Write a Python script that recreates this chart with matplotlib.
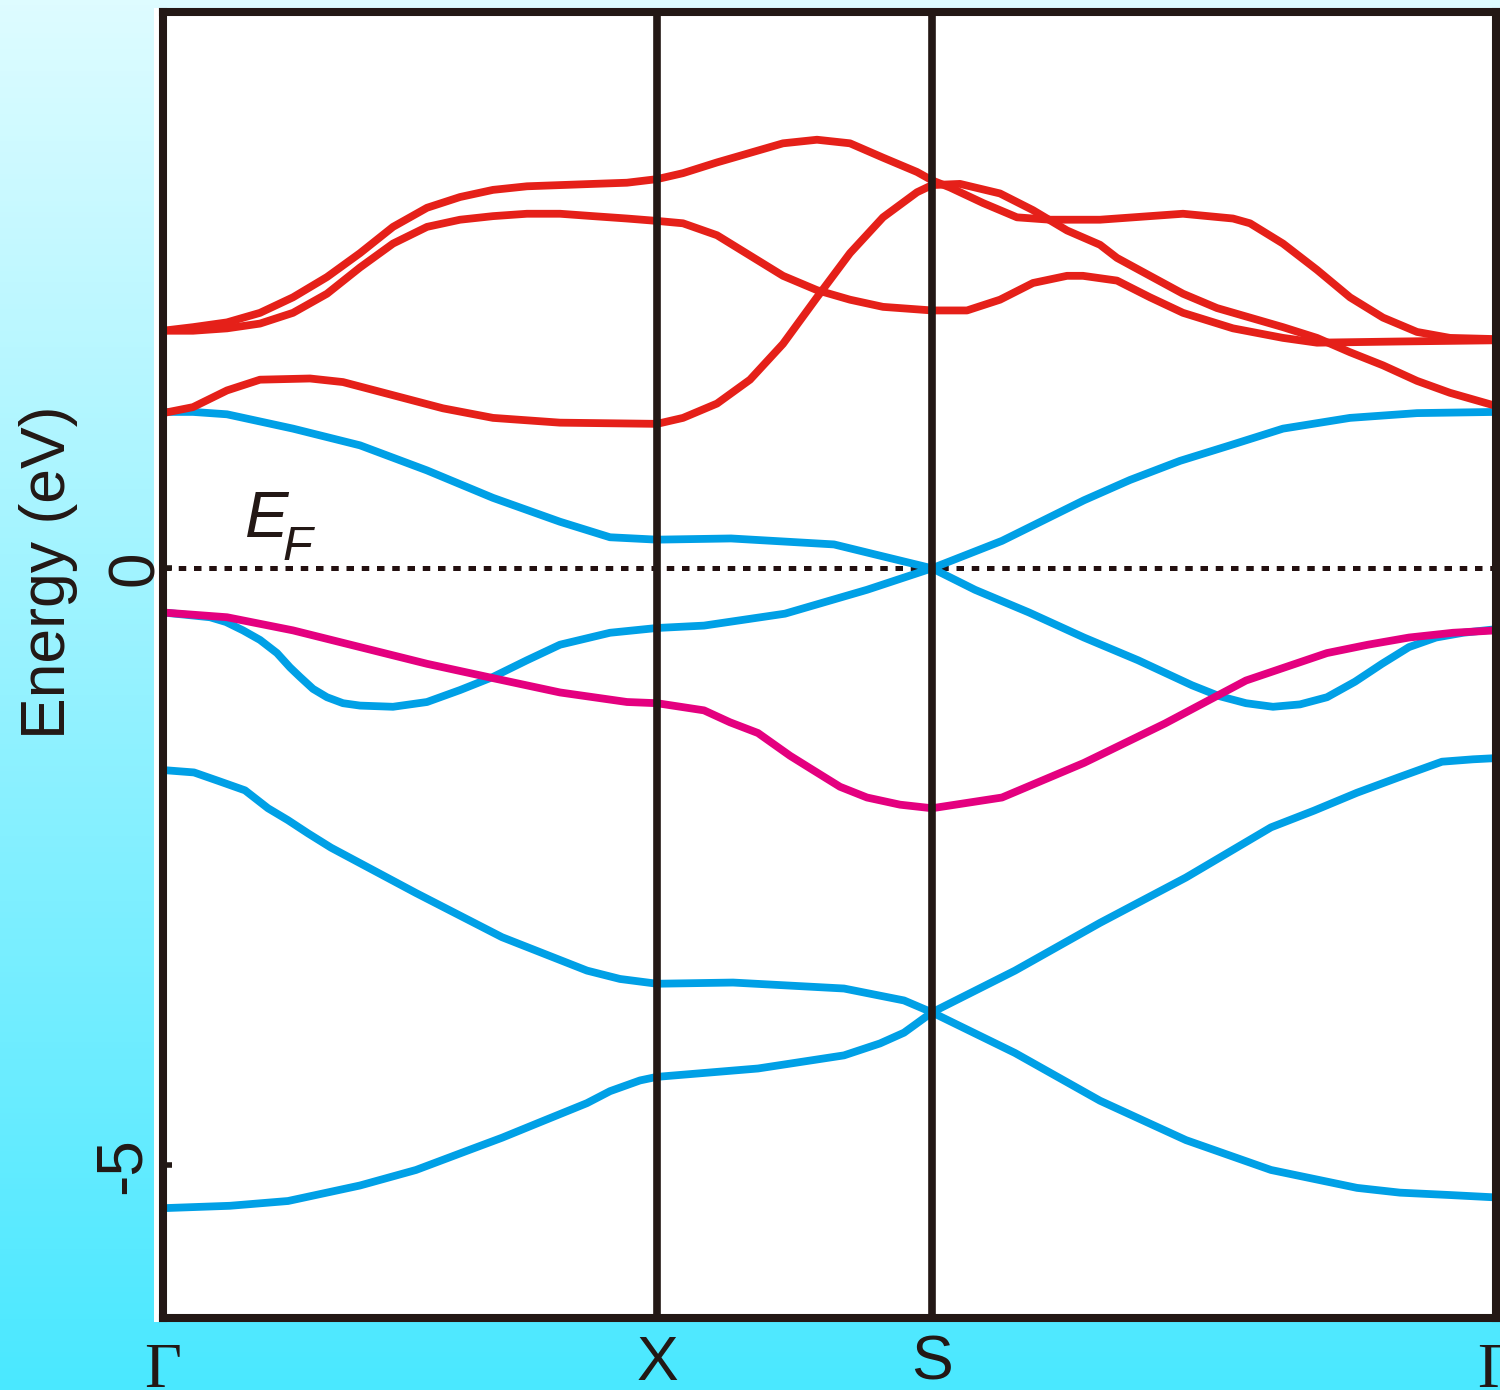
import numpy as np
import matplotlib
matplotlib.use("Agg")
import matplotlib.pyplot as plt
from matplotlib.patches import Rectangle

# k-path distance along Γ-X-S-Γ (arbitrary units), energies in eV
K_POINTS = [0, 494, 769, 1333]
K_LABELS = ["Γ", "X", "S", "Γ"]
Y_TICKS = [-5, 0]
Y_TICK_LABELS = ["-5", "0"]
E_MIN, E_MAX = -6.28, 4.66

# conduction bands (red)
K_R1 = [0, 30, 64, 97, 130, 164, 197, 230, 264, 297, 330, 364, 397, 430, 464, 494, 520, 554,
        587, 620, 654, 687, 720, 754, 769, 787, 820, 854, 887, 937, 1020, 1070, 1087, 1120,
        1154, 1187, 1220, 1254, 1287, 1333]
E_R1 = [1.99, 2.02, 2.06, 2.14, 2.27, 2.44, 2.64, 2.86, 3.02, 3.11, 3.17, 3.20, 3.21, 3.22,
        3.23, 3.26, 3.31, 3.40, 3.48, 3.56, 3.59, 3.56, 3.44, 3.32, 3.25, 3.19, 3.06, 2.94,
        2.92, 2.92, 2.97, 2.93, 2.89, 2.72, 2.50, 2.27, 2.10, 1.98, 1.93, 1.92]

K_R2 = [0, 30, 64, 97, 130, 164, 197, 230, 264, 297, 330, 364, 397, 430, 464, 494, 520, 554,
        587, 620, 654, 687, 720, 769, 804, 837, 870, 904, 920, 954, 987, 1020, 1070, 1120,
        1154, 1237, 1333]
E_R2 = [1.99, 1.99, 2.01, 2.05, 2.14, 2.30, 2.52, 2.72, 2.86, 2.92, 2.95, 2.97, 2.97, 2.95,
        2.93, 2.91, 2.89, 2.79, 2.62, 2.45, 2.33, 2.25, 2.19, 2.16, 2.16, 2.25, 2.39, 2.45,
        2.45, 2.41, 2.27, 2.14, 2.01, 1.93, 1.89, 1.90, 1.91]

K_R3 = [0, 30, 64, 97, 147, 180, 230, 280, 330, 397, 494, 520, 554, 587, 620, 654, 687, 720,
        754, 769, 797, 837, 870, 904, 937, 954, 987, 1020, 1054, 1087, 1120, 1154, 1187,
        1220, 1254, 1287, 1333]
E_R3 = [1.30, 1.35, 1.49, 1.58, 1.59, 1.56, 1.45, 1.34, 1.26, 1.22, 1.21, 1.26, 1.38, 1.58,
        1.88, 2.27, 2.64, 2.94, 3.15, 3.21, 3.22, 3.14, 3.00, 2.83, 2.71, 2.60, 2.45, 2.30,
        2.18, 2.10, 2.02, 1.93, 1.81, 1.70, 1.57, 1.47, 1.36]

# valence bands (blue)
K_B1 = [0, 30, 64, 130, 197, 264, 330, 397, 447, 494, 568, 671, 715, 769, 812, 866, 921, 975,
        1029, 1056, 1083, 1110, 1137, 1164, 1192, 1219, 1246, 1273, 1300, 1333]
E_B1 = [1.31, 1.31, 1.29, 1.17, 1.03, 0.82, 0.59, 0.39, 0.26, 0.24, 0.25, 0.20, 0.11, 0.00,
        -0.18, -0.37, -0.58, -0.77, -0.98, -1.07, -1.13, -1.16, -1.14, -1.08, -0.95, -0.80,
        -0.66, -0.58, -0.54, -0.51]

K_B2 = [0, 47, 63, 80, 97, 114, 127, 137, 150, 164, 180, 197, 230, 264, 297, 330, 364, 397,
        447, 494, 541, 622, 704, 769, 839, 921, 967, 1017, 1067, 1120, 1187, 1254, 1333]
E_B2 = [-0.37, -0.41, -0.45, -0.52, -0.60, -0.71, -0.83, -0.91, -1.01, -1.08, -1.13, -1.15,
        -1.16, -1.12, -1.02, -0.91, -0.77, -0.64, -0.54, -0.50, -0.48, -0.38, -0.18, 0.00,
        0.23, 0.57, 0.74, 0.90, 1.03, 1.17, 1.26, 1.30, 1.31]

K_B3 = [0, 31, 55, 82, 105, 125, 145, 168, 253, 339, 424, 457, 494, 570, 681, 741, 769, 852,
        937, 1023, 1108, 1151, 1194, 1236, 1279, 1310, 1333]
E_B3 = [-1.69, -1.71, -1.78, -1.86, -2.01, -2.11, -2.22, -2.34, -2.72, -3.09, -3.37, -3.44,
        -3.48, -3.47, -3.52, -3.62, -3.72, -3.37, -2.97, -2.59, -2.17, -2.03, -1.88, -1.75,
        -1.62, -1.60, -1.59]

K_B4 = [0, 67, 125, 197, 253, 307, 339, 377, 424, 447, 477, 494, 595, 681, 717, 741, 769, 852,
        937, 1023, 1108, 1194, 1237, 1287, 1333]
E_B4 = [-5.36, -5.34, -5.30, -5.17, -5.04, -4.87, -4.77, -4.64, -4.48, -4.38, -4.29, -4.26,
        -4.19, -4.08, -3.98, -3.89, -3.72, -4.06, -4.46, -4.79, -5.04, -5.19, -5.23, -5.25,
        -5.27]

# magenta band
K_M = [0, 64, 130, 197, 264, 330, 397, 464, 494, 541, 567, 595, 627, 650, 677, 704, 737, 769,
       839, 921, 1002, 1083, 1164, 1205, 1246, 1290, 1333]
E_M = [-0.37, -0.41, -0.52, -0.66, -0.80, -0.92, -1.04, -1.12, -1.13, -1.19, -1.29, -1.38,
       -1.57, -1.69, -1.83, -1.92, -1.98, -2.01, -1.92, -1.63, -1.30, -0.94, -0.71, -0.64,
       -0.58, -0.54, -0.52]

RED = "#E52019"
BLUE = "#00A0E6"
MAGENTA = "#E4007F"
BLACK = "#231815"
FONT = "Liberation Sans"

W, H = 1500, 1390
fig = plt.figure(figsize=(W / 100, H / 100), dpi=100)

# cyan vertical gradient background
bg = fig.add_axes([0, 0, 1, 1])
bg.set_axis_off()
top = np.array([222, 252, 255]) / 255
bot = np.array([74, 232, 255]) / 255
t = np.linspace(0, 1, 256)[:, None]
grad = top[None, :] * (1 - t) + bot[None, :] * t
bg.imshow(grad[:, None, :], extent=[0, 1, 0, 1], aspect="auto", origin="upper")
bg.add_patch(Rectangle((154 / W, 1 - 1322 / H), (W - 154) / W, (1322 - 8) / H,
                       color="white", lw=0))
bg.set_xlim(0, 1)
bg.set_ylim(0, 1)

ax = fig.add_axes([163 / W, 1 - 1318 / H, (1496 - 163) / W, (1318 - 12) / H])
ax.set_facecolor("white")
ax.set_xlim(K_POINTS[0], K_POINTS[-1])
ax.set_ylim(E_MIN, E_MAX)

ax.axhline(0, color="#231010", lw=3.6, ls=(0, (1.5, 1.55)), zorder=1)

lw = 5.6
for k, e in [(K_B1, E_B1), (K_B2, E_B2), (K_B3, E_B3), (K_B4, E_B4)]:
    ax.plot(k, e, color=BLUE, lw=lw, zorder=2, solid_joinstyle="round")
ax.plot(K_M, E_M, color=MAGENTA, lw=lw, zorder=2.2, solid_joinstyle="round")
for k, e in [(K_R1, E_R1), (K_R2, E_R2), (K_R3, E_R3)]:
    ax.plot(k, e, color=RED, lw=lw, zorder=2.4, solid_joinstyle="round")

for kp in K_POINTS[1:-1]:
    ax.axvline(kp, color=BLACK, lw=5.5, zorder=3)

for s in ax.spines.values():
    s.set_linewidth(5.8)
    s.set_color(BLACK)
    s.set_zorder(4)

ax.set_xticks([])
ax.set_yticks(Y_TICKS)
ax.tick_params(axis="y", direction="in", length=6.5, width=4, color=BLACK,
               labelleft=False)

# y tick labels, rotated like the original
ylab_x = {"0": (153 - 163) / 1333, "-5": (140 - 163) / 1333}
for val, lab in zip(Y_TICKS, Y_TICK_LABELS):
    ax.text(ylab_x[lab], val, lab, transform=ax.get_yaxis_transform(), rotation=90,
            rotation_mode="anchor", ha="center", va="baseline", fontsize=46,
            family=FONT, color=BLACK)

# k-point labels
for kp, lab in zip(K_POINTS, K_LABELS):
    if lab == "Γ":
        ax.text(kp, (1318 - 1387) / 1306, lab, transform=ax.get_xaxis_transform(),
                ha="center", va="baseline", fontsize=46, family="Liberation Serif",
                color=BLACK, clip_on=False)
    else:
        ax.text(kp, (1318 - 1380) / 1306, lab, transform=ax.get_xaxis_transform(),
                ha="center", va="baseline", fontsize=45, family=FONT, color=BLACK)

fig.text(65 / W, 1 - 572 / H, "Energy (eV)", rotation=90, rotation_mode="anchor",
         ha="center", va="baseline", fontsize=45, family=FONT, color=BLACK)

# Fermi level label
ax.text(82, 0.26, "E", fontsize=47, family=FONT, style="italic", color=BLACK,
        ha="left", va="baseline")
ax.text(120, 0.067, "F", fontsize=35, family=FONT, style="italic", color=BLACK,
        ha="left", va="baseline")

fig.savefig("out.png", dpi=100)
